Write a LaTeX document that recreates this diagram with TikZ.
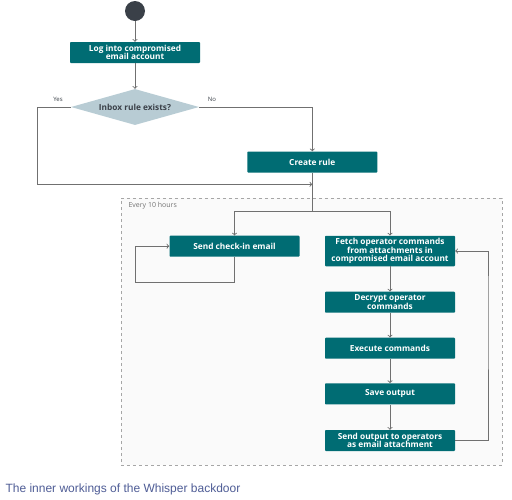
\documentclass[tikz,border=0pt]{standalone}
\usepackage{fontspec}
\usepackage{tikz}
\usetikzlibrary{shapes.geometric}
\setmainfont{Open Sans}
\newfontfamily\capfont{Liberation Sans}
\definecolor{boxteal}{HTML}{006C73}
\definecolor{dotdark}{HTML}{3A4048}
\definecolor{diamblue}{HTML}{B8CCD4}
\definecolor{linegray}{HTML}{707070}
\definecolor{capblue}{HTML}{4F5D96}
\tikzset{
  stepbox/.style={fill=boxteal,text=white,minimum width=130pt,minimum height=21pt,
    inner sep=1pt,align=center,font=\fontsize{8.3}{8.6}\selectfont\bfseries,rounded corners=0.8pt},
  flow/.style={draw=linegray,line width=0.9pt}
}

\begin{document}
\begin{tikzpicture}[x=1pt,y=-1pt]
  \fill[white] (0,0) rectangle (512,499);
  \useasboundingbox (0,0) rectangle (512,499);
  \node (loop10) at (311.4,331.6) [draw=gray!70,dashed,fill=gray!4,line width=0.7pt,
    minimum width=381pt,minimum height=267pt] {};
  \node at (125,206) [anchor=west,text=gray!90!black,font=\fontsize{7}{8}\selectfont] {Every 10 hours};
  \node (start) at (135,11) [fill=dotdark,circle,minimum size=20pt,inner sep=0pt] {};
  \node (login) at (135,52.5) [stepbox] {Log into compromised\\email account};
  \node (check) at (135,107) [diamond,fill=diamblue,aspect=3.5,inner sep=0pt,
    minimum width=128pt,minimum height=36pt,text=dotdark,
    font=\fontsize{8.3}{8.6}\selectfont\bfseries] {Inbox rule exists?};
  \node at (58,99) [text=dotdark,font=\fontsize{6}{7}\selectfont] {Yes};
  \node at (212,99) [text=dotdark,font=\fontsize{6}{7}\selectfont] {No};
  \node (create) at (312.3,162) [stepbox] {Create rule};
  \node (checkin) at (234.5,246.2) [stepbox] {Send check-in email};
  \node (fetch) at (390,251) [stepbox,minimum height=30.5pt] {Fetch operator commands\\from attachments in\\compromised email account};
  \node (decrypt) at (390,302.2) [stepbox] {Decrypt operator\\commands};
  \node (execute) at (390,348.2) [stepbox] {Execute commands};
  \node (save) at (390,393.8) [stepbox] {Save output};
  \node (sendout) at (390,440.5) [stepbox] {Send output to operators\\as email attachment};
  \node (cap) at (2,489) [anchor=west,text=capblue,font=\capfont\fontsize{12}{14}\selectfont] {The inner workings of the Whisper backdoor};
  \coordinate (yes) at (37,184.3);
  \coordinate (merge) at (312.3,184.3);
  \coordinate (split) at (312.3,211);
  \coordinate (selfloop) at (135,282);
  \coordinate (back) at (488,300);
  \draw[flow,->] (start) -- (login);
  \draw[flow,->] (login) -- (check);
  \draw[flow,->] (check.west) -| (yes) -- (merge);
  \draw[flow,->] (check.east) -| (create);
  \draw[flow] (create) -- (split);
  \draw[flow,->] (split) -| (checkin);
  \draw[flow,->] (split) -| (fetch);
  \draw[flow,->] (checkin.south) |- (selfloop) |- (checkin.west);
  \draw[flow,->] (fetch) -- (decrypt);
  \draw[flow,->] (decrypt) -- (execute);
  \draw[flow,->] (execute) -- (save);
  \draw[flow,->] (save) -- (sendout);
  \draw[flow,->] (sendout.east) -| (back) |- (fetch.east);
\end{tikzpicture}
\end{document}
